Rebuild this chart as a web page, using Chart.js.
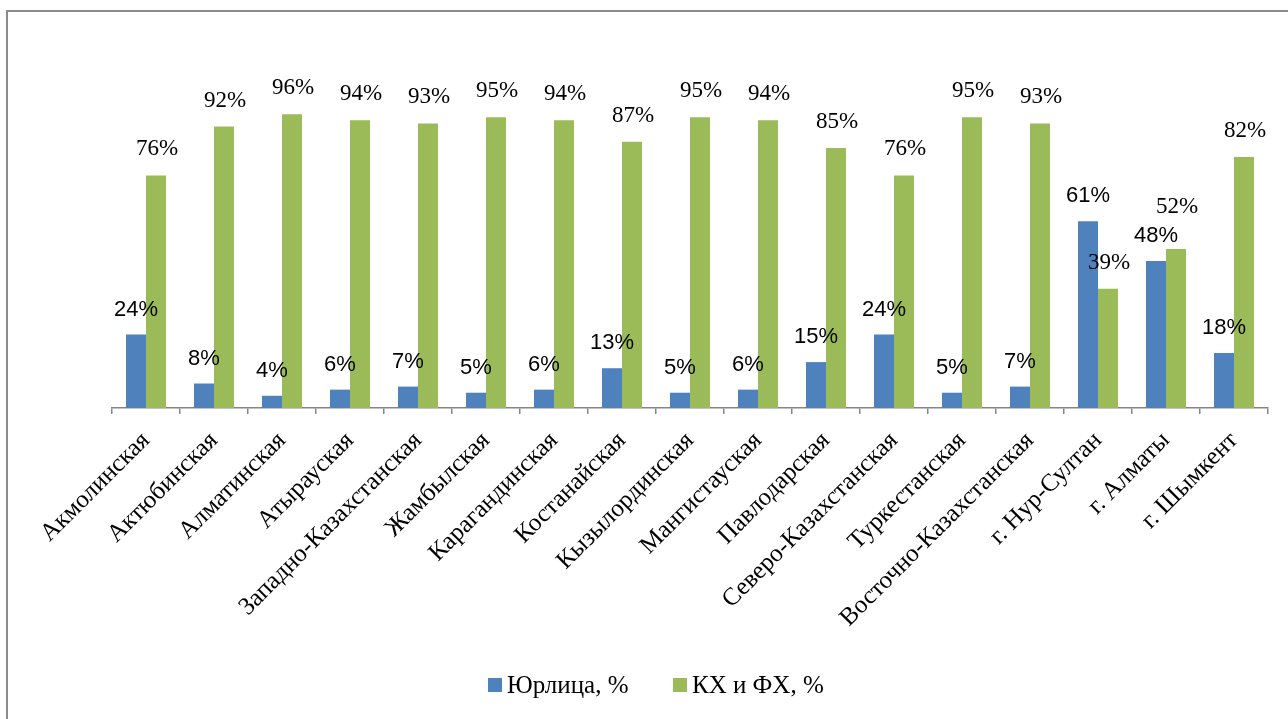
<!DOCTYPE html>
<html>
<head>
<meta charset="utf-8">
<script src="https://cdn.jsdelivr.net/npm/chart.js@4.4.1/dist/chart.umd.min.js"></script>
<style>
  html, body { margin: 0; padding: 0; background: #ffffff; }
  #c { display: block; }
</style>
</head>
<body>
<canvas id="c" width="1288" height="719"></canvas>
<script>
const categories = ["Акмолинская", "Актюбинская", "Алматинская", "Атырауская", "Западно-Казахстанская", "Жамбылская", "Карагандинская", "Костанайская", "Кызылординская", "Мангистауская", "Павлодарская", "Северо-Казахстанская", "Туркестанская", "Восточно-Казахстанская", "г. Нур-Султан", "г. Алматы", "г. Шымкент"];
const seriesNames = ["Юрлица, %", "КХ и ФХ, %"];
const legalEntities = [24, 8, 4, 6, 7, 5, 6, 13, 5, 6, 15, 24, 5, 7, 61, 48, 18];
const farms = [76, 92, 96, 94, 93, 95, 94, 87, 95, 94, 85, 76, 95, 93, 39, 52, 82];

const BLUE = "#4F81BD";
const GREEN = "#9BBB59";
const AXIS = "#868686";
const SERIF = "'Liberation Serif', 'Times New Roman', serif";
const SANS = "'Liberation Sans', Arial, sans-serif";

const framePlugin = {
  id: "frame",
  beforeDraw(chart) {
    const ctx = chart.ctx;
    ctx.save();
    ctx.fillStyle = "#ffffff";
    ctx.fillRect(0, 0, chart.width, chart.height);
    ctx.strokeStyle = "#8c8c8c";
    ctx.lineWidth = 2;
    ctx.beginPath();
    ctx.moveTo(7, chart.height);
    ctx.lineTo(7, 11);
    ctx.lineTo(chart.width, 11);
    ctx.stroke();
    ctx.restore();
  }
};

const labelPlugin = {
  id: "valueLabels",
  afterDatasetsDraw(chart) {
    const ctx = chart.ctx;
    const m0 = chart.getDatasetMeta(0);
    const m1 = chart.getDatasetMeta(1);
    ctx.save();
    ctx.textAlign = "center";
    ctx.textBaseline = "middle";
    ctx.fillStyle = "#000000";
    m0.data.forEach((el, i) => {
      ctx.font = "22px " + SANS;
      ctx.fillText(legalEntities[i] + "%", el.x, el.y - 25);
    });
    m1.data.forEach((el, i) => {
      const blueY = m0.data[i].y;
      let off = 26;
      if (el.y <= blueY && blueY - el.y < 25) off += 16;
      ctx.font = "23px " + SERIF;
      ctx.fillText(farms[i] + "%", el.x + 1, el.y - off);
    });
    ctx.restore();
  }
};

const legendPlugin = {
  id: "customLegend",
  afterDraw(chart) {
    const ctx = chart.ctx;
    const items = [
      { x: 488, color: BLUE, text: seriesNames[0] },
      { x: 673, color: GREEN, text: seriesNames[1] }
    ];
    ctx.save();
    ctx.textAlign = "left";
    ctx.textBaseline = "middle";
    ctx.font = "25px " + SERIF;
    items.forEach(it => {
      ctx.fillStyle = it.color;
      ctx.fillRect(it.x, 678, 14, 14);
      ctx.fillStyle = "#000000";
      ctx.fillText(it.text, it.x + 19, 686);
    });
    ctx.restore();
  }
};

new Chart(document.getElementById("c"), {
  type: "bar",
  data: {
    labels: categories,
    datasets: [
      { label: seriesNames[0], data: legalEntities, backgroundColor: BLUE, borderWidth: 0 },
      { label: seriesNames[1], data: farms, backgroundColor: GREEN, borderWidth: 0 }
    ]
  },
  options: {
    responsive: false,
    animation: false,
    events: [],
    layout: { padding: { left: 112, right: 20, top: 102, bottom: 0 } },
    datasets: { bar: { categoryPercentage: 0.588, barPercentage: 1.0 } },
    plugins: { legend: { display: false }, tooltip: { enabled: false } },
    scales: {
      x: {
        offset: true,
        grid: { display: true, drawOnChartArea: false, drawTicks: true, tickLength: 6, color: AXIS, offset: true, lineWidth: 1.5 },
        border: { display: true, color: AXIS, width: 1.5 },
        ticks: {
          autoSkip: false, maxRotation: 45, minRotation: 45, padding: 12,
          color: "#000000",
          font: { family: SERIF, size: 25 }
        },
        afterFit(scale) { scale.height = 311; }
      },
      y: {
        display: false,
        min: 0, max: 100
      }
    }
  },
  plugins: [framePlugin, labelPlugin, legendPlugin]
});
</script>
</body>
</html>
